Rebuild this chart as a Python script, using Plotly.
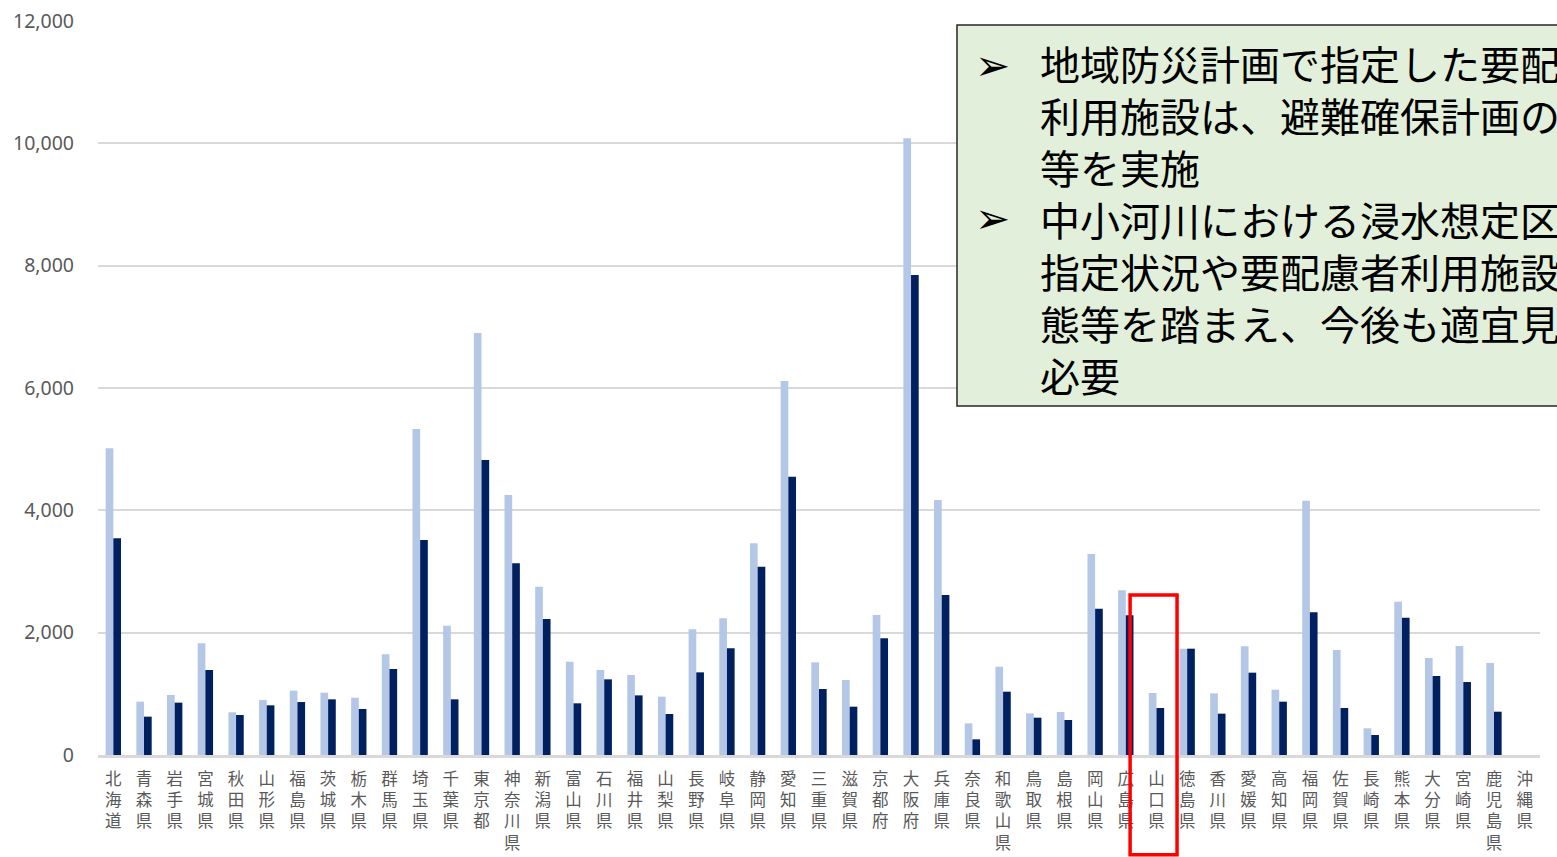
import plotly.graph_objects as go

prefectures = ["北海道", "青森県", "岩手県", "宮城県", "秋田県", "山形県", "福島県", "茨城県", "栃木県", "群馬県",
               "埼玉県", "千葉県", "東京都", "神奈川県", "新潟県", "富山県", "石川県", "福井県", "山梨県", "長野県",
               "岐阜県", "静岡県", "愛知県", "三重県", "滋賀県", "京都府", "大阪府", "兵庫県", "奈良県", "和歌山県",
               "鳥取県", "島根県", "岡山県", "広島県", "山口県", "徳島県", "香川県", "愛媛県", "高知県", "福岡県",
               "佐賀県", "長崎県", "熊本県", "大分県", "宮崎県", "鹿児島県", "沖縄県"]

facilities = [5014, 872, 981, 1826, 698, 899, 1052, 1019, 937, 1646,
              5330, 2114, 6900, 4251, 2752, 1526, 1390, 1308, 954, 2054,
              2234, 3460, 6114, 1515, 1226, 2289, 10082, 4169, 518, 1444,
              681, 703, 3286, 2692, 1014, 1738, 1008, 1777, 1068, 4158,
              1717, 436, 2507, 1586, 1782, 1504, 0]

plans = [3542, 627, 856, 1390, 654, 812, 866, 910, 752, 1406,
         3515, 910, 4823, 3134, 2223, 845, 1237, 975, 670, 1351,
         1744, 3079, 4550, 1079, 790, 1907, 7847, 2616, 256, 1035,
         610, 572, 2392, 2283, 768, 1738, 676, 1346, 872, 2332,
         768, 327, 2245, 1292, 1193, 708, 0]

y_ticks = [0, 2000, 4000, 6000, 8000, 10000, 12000]
y_tick_labels = ["0", "2,000", "4,000", "6,000", "8,000", "10,000", "12,000"]

box_lines = ["地域防災計画で指定した要配慮者",
             "利用施設は、避難確保計画の作成",
             "等を実施",
             "中小河川における浸水想定区域の",
             "指定状況や要配慮者利用施設の実",
             "態等を踏まえ、今後も適宜見直しが",
             "必要"]

highlight = "山口県"

vertical_labels = ["<br>".join(list(p)) for p in prefectures]

fig = go.Figure()
fig.add_trace(go.Bar(x=prefectures, y=facilities, name="要配慮者利用施設数",
                     marker=dict(color="#B4C7E7", line=dict(width=0))))
fig.add_trace(go.Bar(x=prefectures, y=plans, name="避難確保計画作成数",
                     marker=dict(color="#002060", line=dict(width=0))))

n = len(prefectures)
hi = prefectures.index(highlight)

fig.update_layout(
    width=1557, height=857,
    margin=dict(l=98, r=17, t=21, b=102),
    paper_bgcolor="white", plot_bgcolor="white",
    barmode="group", bargap=0.5, bargroupgap=0,
    showlegend=False,
    font=dict(family="Noto Sans CJK JP, Noto Sans", color="#595959"),
    xaxis=dict(
        tickmode="array", tickvals=prefectures, ticktext=vertical_labels,
        tickangle=0, ticks="", showgrid=False, automargin=False,
        showline=True, linecolor="#D9D9D9", linewidth=2.5,
        tickfont=dict(size=16.5, color="#595959", family="Noto Sans CJK JP"),
        ticklabelstandoff=7,
        range=[-0.5, n - 0.5],
    ),
    yaxis=dict(
        range=[0, 12000], tickmode="array", tickvals=y_ticks, ticktext=y_tick_labels,
        showgrid=True, gridcolor="#D9D9D9", gridwidth=1.5, automargin=False,
        zeroline=False, showline=False, ticks="",
        tickfont=dict(size=19.5, color="#595959", family="Noto Sans"),
        ticklabelstandoff=23,
    ),
)

# Green explanatory box (partially cut by the right edge)
fig.add_shape(type="rect", xref="paper", yref="paper",
              x0=0.5957, x1=1.3, y0=0.4755, y1=0.9946,
              fillcolor="#E2EFDA", line=dict(color="#262626", width=1.5), layer="above")

fig.add_annotation(xref="paper", yref="paper", x=0.6519, y=0.7302,
                   xanchor="left", yanchor="middle", align="left", showarrow=False,
                   text="<br>".join(box_lines),
                   font=dict(size=40, color="#000000", family="Noto Sans CJK JP"))

for yy in [0.940, 0.7316]:
    fig.add_annotation(xref="paper", yref="paper", x=0.6065, y=yy,
                       xanchor="left", yanchor="middle", showarrow=False,
                       text="➢", font=dict(size=42, color="#000000", family="DejaVu Sans"))

# Red highlight rectangle around the selected prefecture
fig.add_shape(type="rect", xref="x", yref="paper",
              x0=hi - 0.86, x1=hi + 0.67, y0=-0.136, y1=0.218,
              line=dict(color="#FF0000", width=3.5), fillcolor="rgba(0,0,0,0)", layer="above")

fig.write_html("out.html", config={"displayModeBar": False},
               post_script="document.body.style.margin='0';document.body.style.overflow='hidden';")
